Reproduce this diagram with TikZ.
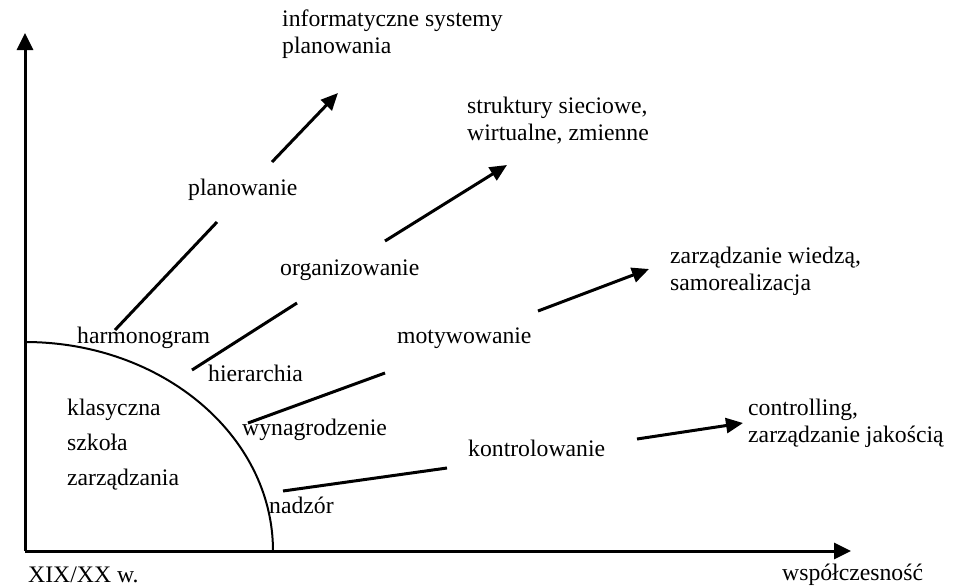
\documentclass[tikz,border=0pt]{standalone}
\usepackage{fontspec}
\setmainfont{Liberation Serif}
\usetikzlibrary{arrows.meta}
\begin{document}
\begin{tikzpicture}[x=1pt,y=-1pt,
  lbl/.style={inner sep=0pt,anchor=west,font=\fontsize{23.7}{27}\selectfont},
  mlbl/.style={inner sep=0pt,anchor=west,align=left,font=\fontsize{23.7}{27}\selectfont},
  conn/.style={line width=3pt},
  arr/.style={line width=3pt,-{Triangle[length=17pt,width=15pt]}},
  axis/.style={line width=3pt,-{Triangle[length=17pt,width=16pt]}}]
\useasboundingbox (0,0) rectangle (961,587);
% axes
\coordinate (O) at (25,551);
\coordinate (Ytip) at (25,33);
\coordinate (Xtip) at (851,551);
\draw[axis] (O) -- (Ytip);
\draw[axis] (O) -- (Xtip);
% arc
\coordinate (arcS) at (25,342);
\draw[line width=2pt] (arcS) arc[start angle=-90,end angle=0,x radius=248,y radius=209];
% labels
\node[lbl] (xix) at (28,575) {XIX/XX w.};
\node[lbl] (wsp) at (782,575) {współczesność};
\node[mlbl,font=\fontsize{23.7}{35}\selectfont] (klas) at (67,445) {klasyczna\\szkoła\\zarządzania};
\node[lbl] (harm) at (77,338) {harmonogram};
\node[lbl] (plan) at (188,190) {planowanie};
\node[mlbl] (isp) at (282,34) {informatyczne systemy\\planowania};
\node[lbl] (hier) at (208,373) {hierarchia};
\node[lbl] (org) at (280,270) {organizowanie};
\node[mlbl] (str) at (467,121) {struktury sieciowe,\\wirtualne, zmienne};
\node[lbl] (wyn) at (242,430) {wynagrodzenie};
\node[lbl] (mot) at (397,338) {motywowanie};
\node[mlbl] (zw) at (670,271) {zarządzanie wiedzą,\\samorealizacja};
\node[lbl] (nad) at (269,505) {nadzór};
\node[lbl] (kon) at (468,448) {kontrolowanie};
\node[mlbl] (ctr) at (748,423) {controlling,\\zarządzanie jakością};
% connector end points
\coordinate (p1a) at (115,330); \coordinate (p1b) at (217,222);
\coordinate (p1c) at (272,162); \coordinate (p1d) at (338,93);
\coordinate (p2a) at (192,370); \coordinate (p2b) at (297,303);
\coordinate (p2c) at (385,241); \coordinate (p2d) at (507,165);
\coordinate (p3a) at (248,423); \coordinate (p3b) at (385,373);
\coordinate (p3c) at (538,311); \coordinate (p3d) at (649,269);
\coordinate (p4a) at (283,491); \coordinate (p4b) at (447,468);
\coordinate (p4c) at (637,439); \coordinate (p4d) at (743,423);
\draw[conn] (p1a) -- (p1b);
\draw[arr] (p1c) -- (p1d);
\draw[conn] (p2a) -- (p2b);
\draw[arr] (p2c) -- (p2d);
\draw[conn] (p3a) -- (p3b);
\draw[arr] (p3c) -- (p3d);
\draw[conn] (p4a) -- (p4b);
\draw[arr] (p4c) -- (p4d);
\end{tikzpicture}
\end{document}
